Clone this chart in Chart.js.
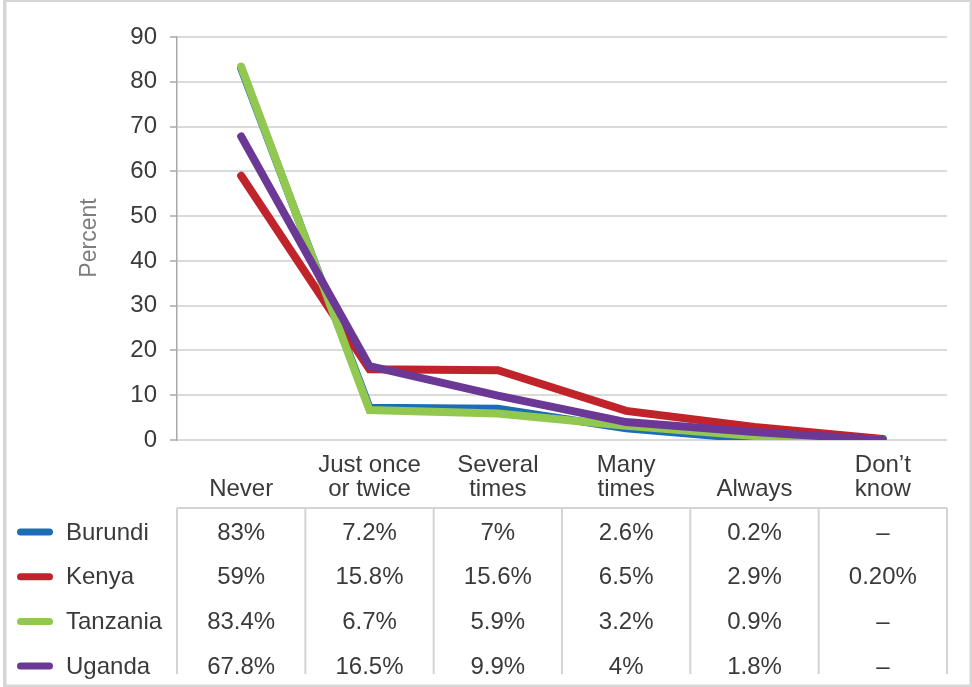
<!DOCTYPE html>
<html>
<head>
<meta charset="utf-8">
<script src="https://cdn.jsdelivr.net/npm/chart.js@4/dist/chart.umd.min.js"></script>
<style>
  html, body { margin: 0; padding: 0; background: #fff; }
  #wrap { position: relative; width: 972px; height: 687px; }
</style>
</head>
<body>
<div id="wrap"><canvas id="c" width="972" height="687"></canvas></div>
<script>
// Response categories (multi-line labels as arrays)
const categories = [
  ['Never'],
  ['Just once', 'or twice'],
  ['Several', 'times'],
  ['Many', 'times'],
  ['Always'],
  ['Don\u2019t', 'know']
];

// Percent of respondents per country; null = no response recorded ("–")
const burundi  = [83,   7.2,  7,    2.6, 0.2, null];
const kenya    = [59,   15.8, 15.6, 6.5, 2.9, 0.2];
const tanzania = [83.4, 6.7,  5.9,  3.2, 0.9, null];
const uganda   = [67.8, 16.5, 9.9,  4,   1.8, null];

const countries = ['Burundi', 'Kenya', 'Tanzania', 'Uganda'];
const seriesValues = [burundi, kenya, tanzania, uganda];
const seriesColors = ['#1c6db5', '#c1232a', '#92c850', '#6c3896'];

// Y axis ticks
const yTicks = [0, 10, 20, 30, 40, 50, 60, 70, 80, 90];

// Cells printed with a fixed number of decimals (country -> {column: digits})
const printDigits = { Kenya: { 5: 2 } };

const FONT = '"Liberation Sans", Arial, sans-serif';
const TEXT = '#3a3a3a';

function cellText(country, col, v) {
  if (v === null) return '\u2013';
  const d = printDigits[country] && printDigits[country][col];
  return (d ? v.toFixed(d) : String(v)) + '%';
}

const datasets = countries.map((name, i) => ({
  label: name,
  data: seriesValues[i].map(v => (v === null ? 0 : v)),
  borderColor: seriesColors[i],
  backgroundColor: seriesColors[i],
  borderWidth: 8,
  borderCapStyle: 'round',
  borderJoinStyle: 'miter',
  pointRadius: 0,
  tension: 0,
  // Uganda on top, then Tanzania, Kenya, Burundi underneath
  order: countries.length - 1 - i
}));

const frameAndTable = {
  id: 'frameAndTable',
  beforeDraw(chart) {
    const ctx = chart.ctx;
    ctx.save();
    ctx.fillStyle = '#d6d6d6';
    ctx.fillRect(3, 0, 969, 2);      // top
    ctx.fillRect(3, 0, 3.5, 687);    // left
    ctx.fillRect(969.5, 0, 2.5, 687);// right
    ctx.fillRect(3, 684.5, 969, 2.5);// bottom
    ctx.restore();
  },
  afterDraw(chart) {
    const ctx = chart.ctx;
    const xs = chart.scales.x;
    const area = chart.chartArea;
    const step = xs.getPixelForValue(1) - xs.getPixelForValue(0);
    ctx.save();

    // Y axis title
    ctx.save();
    ctx.translate(90, 238);
    ctx.rotate(-Math.PI / 2);
    ctx.font = '23px ' + FONT;
    ctx.fillStyle = '#7d7d7d';
    ctx.textAlign = 'center';
    ctx.textBaseline = 'middle';
    ctx.fillText('Percent', 0, 0);
    ctx.restore();

    // Column headers (bottom-aligned)
    ctx.font = '24px ' + FONT;
    ctx.fillStyle = TEXT;
    ctx.textAlign = 'center';
    ctx.textBaseline = 'alphabetic';
    const headBase = area.bottom + 56;
    categories.forEach((lines, i) => {
      const cx = xs.getPixelForValue(i);
      lines.forEach((t, k) => {
        ctx.fillText(t, cx, headBase - (lines.length - 1 - k) * 24);
      });
    });

    // Table grid
    const tableTop = area.bottom + 68;
    const tableBottom = 674;
    ctx.strokeStyle = '#d4d4d4';
    ctx.lineWidth = 2;
    ctx.beginPath();
    ctx.moveTo(area.left, tableTop);
    ctx.lineTo(xs.getPixelForValue(categories.length - 1) + step / 2, tableTop);
    for (let i = 0; i <= categories.length; i++) {
      const x = xs.getPixelForValue(0) - step / 2 + i * step;
      ctx.moveTo(x, tableTop);
      ctx.lineTo(x, tableBottom);
    }
    ctx.stroke();

    // Rows: legend swatch, country name, values
    const rowH = 44.7;
    countries.forEach((name, r) => {
      const cy = tableTop + 25 + r * rowH;
      ctx.strokeStyle = seriesColors[r];
      ctx.lineWidth = 7;
      ctx.lineCap = 'round';
      ctx.beginPath();
      ctx.moveTo(20.5, cy - 1);
      ctx.lineTo(49.5, cy - 1);
      ctx.stroke();

      ctx.fillStyle = TEXT;
      ctx.font = '24px ' + FONT;
      ctx.textBaseline = 'middle';
      ctx.textAlign = 'left';
      ctx.fillText(name, 66, cy);

      ctx.textAlign = 'center';
      seriesValues[r].forEach((v, c) => {
        ctx.fillText(cellText(name, c, v), xs.getPixelForValue(c), cy);
      });
    });
    ctx.restore();
  }
};

new Chart(document.getElementById('c'), {
  type: 'line',
  data: { labels: categories, datasets },
  options: {
    responsive: false,
    animation: false,
    events: [],
    layout: { padding: { left: 0, right: 25, top: 37, bottom: 247 } },
    plugins: { legend: { display: false }, tooltip: { enabled: false } },
    scales: {
      x: {
        type: 'category',
        offset: true,
        grid: { display: false },
        border: { display: false },
        ticks: { display: false },
        afterFit(scale) { scale.height = 0; }
      },
      y: {
        min: 0,
        max: 90,
        afterBuildTicks(scale) { scale.ticks = yTicks.map(v => ({ value: v })); },
        grid: {
          color: '#dadada',
          lineWidth: 2,
          drawTicks: true,
          tickLength: 7,
          tickColor: '#a8a8a8',
          tickWidth: 1.5
        },
        border: { display: true, color: '#a8a8a8', width: 1.5 },
        ticks: {
          color: TEXT,
          font: { family: FONT, size: 24 },
          padding: 13
        },
        afterFit(scale) { scale.width = 177; }
      }
    }
  },
  plugins: [frameAndTable]
});
</script>
</body>
</html>
